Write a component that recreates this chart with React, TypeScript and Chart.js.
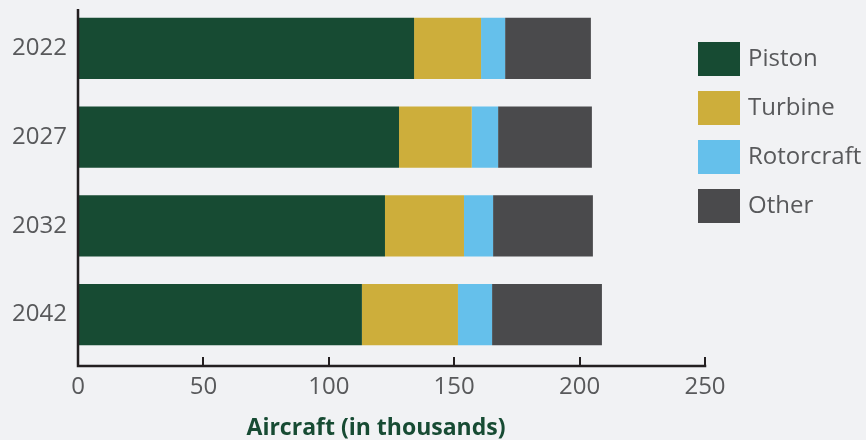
import React, { useEffect, useRef } from 'react';
import { Chart, registerables } from 'chart.js';

Chart.register(...registerables);

const categories = ['2022', '2027', '2032', '2042'];
const piston = [134.0, 128.0, 122.4, 113.2];
const turbine = [26.7, 29.0, 31.5, 38.3];
const rotorcraft = [9.6, 10.5, 11.6, 13.6];
const other = [34.2, 37.4, 39.8, 43.8];
const seriesNames = ['Piston', 'Turbine', 'Rotorcraft', 'Other'];
const xTicks = [0, 50, 100, 150, 200, 250];
const xTitle = 'Aircraft (in thousands)';

const COLORS = ['#174b33', '#cdae3b', '#65c0eb', '#4a4a4c'];
const BG = '#f1f2f4';
const TEXT = '#58595b';
const AXIS = '#231f20';
const FONT = '"Open Sans", "Noto Sans", sans-serif';

const bgPlugin = {
  id: 'bgFill',
  beforeDraw(chart: any) {
    const { ctx, width, height } = chart;
    ctx.save();
    ctx.fillStyle = BG;
    ctx.fillRect(0, 0, width, height);
    ctx.restore();
  },
};

const axesPlugin = {
  id: 'axesLines',
  afterDatasetsDraw(chart: any) {
    const { ctx, chartArea } = chart;
    const x = chart.scales.x;
    const axisY = chartArea.bottom + 7;
    const top = chartArea.top + 5;
    ctx.save();
    ctx.strokeStyle = AXIS;
    ctx.lineWidth = 2.5;
    ctx.lineCap = 'butt';
    ctx.beginPath();
    ctx.moveTo(chartArea.left, top);
    ctx.lineTo(chartArea.left, axisY + 1.25);
    ctx.moveTo(chartArea.left - 1.25, axisY);
    ctx.lineTo(x.getPixelForValue(xTicks[xTicks.length - 1]) + 1.25, axisY);
    ctx.stroke();
    ctx.lineWidth = 2;
    ctx.beginPath();
    xTicks.forEach((v) => {
      const px = Math.round(x.getPixelForValue(v));
      ctx.moveTo(px, axisY);
      ctx.lineTo(px, axisY - 9);
    });
    ctx.stroke();
    // axis title
    ctx.font = `bold 23px ${FONT}`;
    ctx.fillStyle = '#174b33';
    ctx.textAlign = 'center';
    ctx.textBaseline = 'alphabetic';
    ctx.fillText(xTitle, 376, 435);
    ctx.restore();
  },
};

const legendPlugin = {
  id: 'customLegend',
  afterDraw(chart: any) {
    const { ctx } = chart;
    const left = 698;
    const top = 42;
    const step = 49;
    ctx.save();
    ctx.font = `24px ${FONT}`;
    ctx.textBaseline = 'middle';
    ctx.textAlign = 'left';
    chart.data.datasets.forEach((ds: any, i: number) => {
      const y = top + i * step;
      ctx.fillStyle = ds.backgroundColor;
      ctx.fillRect(left, y, 42, 34);
      ctx.fillStyle = TEXT;
      ctx.fillText(ds.label, left + 50, y + 17);
    });
    ctx.restore();
  },
};

export default function App() {
  const ref = useRef<HTMLCanvasElement>(null);

  useEffect(() => {
    document.body.style.margin = '0';
    const seriesData = [piston, turbine, rotorcraft, other];
    const chart = new Chart(ref.current as HTMLCanvasElement, {
      type: 'bar',
      data: {
        labels: categories,
        datasets: seriesNames.map((name, i) => ({
          label: name,
          data: seriesData[i],
          backgroundColor: COLORS[i],
          borderWidth: 0,
          barPercentage: 0.69,
          categoryPercentage: 1,
        })),
      },
      options: {
        indexAxis: 'y',
        animation: false,
        responsive: false,
        maintainAspectRatio: false,
        layout: { padding: { left: 0, right: 161, top: 4, bottom: 0 } },
        plugins: {
          legend: { display: false },
          tooltip: { enabled: false },
        },
        scales: {
          x: {
            stacked: true,
            min: 0,
            max: 250,
            afterBuildTicks: (scale: any) => {
              scale.ticks = xTicks.map((v) => ({ value: v }));
            },
            afterFit: (scale: any) => {
              scale.height = 81;
              scale.paddingLeft = 0;
              scale.paddingRight = 0;
            },
            grid: { display: false, drawTicks: false },
            border: { display: false },
            ticks: {
              color: TEXT,
              font: { family: FONT, size: 24 },
              padding: 14,
              maxRotation: 0,
              autoSkip: false,
            },
            title: { display: false },
          },
          y: {
            stacked: true,
            afterFit: (scale: any) => {
              scale.width = 78;
              scale.paddingTop = 0;
              scale.paddingBottom = 0;
            },
            grid: { display: false, drawTicks: false },
            border: { display: false },
            ticks: {
              color: TEXT,
              font: { family: FONT, size: 24 },
              padding: 11,
            },
          },
        },
      },
      plugins: [bgPlugin, axesPlugin, legendPlugin],
    });
    return () => chart.destroy();
  }, []);

  return (
    <div style={{ position: 'fixed', left: 0, top: 0, width: 866, height: 440, background: BG }}>
      <canvas ref={ref} width={866} height={440} style={{ display: 'block', width: 866, height: 440 }} />
    </div>
  );
}
